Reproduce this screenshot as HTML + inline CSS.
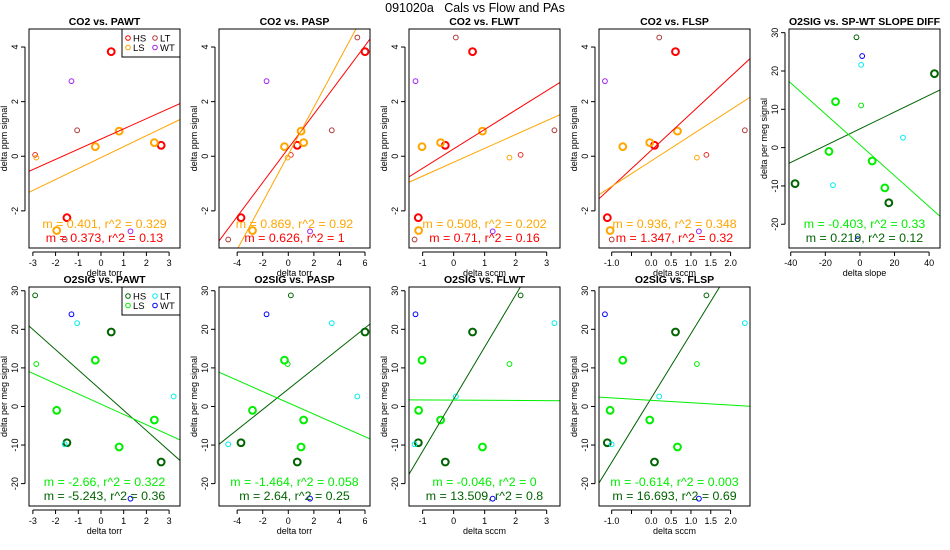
<!DOCTYPE html>
<html><head><meta charset="utf-8"><style>
html,body{margin:0;padding:0;background:#fff}
svg{display:block;font-family:"Liberation Sans",sans-serif}
</style></head><body>
<svg id="c" width="950" height="550" viewBox="0 0 950 550">
<text x="475" y="12" text-anchor="middle" font-size="12.5" style="white-space:pre" xml:space="preserve">091020a   Cals vs Flow and PAs</text>
</svg>
<script>
// point data (14 calibration points)
const groups=['HS','HS','HS','LS','LS','LS','LS','HSt','LSt','LT','LT','LT','WT','WT'];
const co2=[3.83,-2.25,0.4,0.92,0.35,0.5,-2.72,0.05,-0.05,0.95,-3.05,4.35,2.75,-2.75];
const o2=[19.3,-9.4,-14.4,-10.5,12,-3.5,-1,28.8,11,21.6,-9.8,2.6,23.9,-23.9];
const pawt=[0.45,-1.5,2.65,0.8,-0.25,2.35,-1.95,-2.9,-2.85,-1.05,-1.6,3.2,-1.3,1.3];
const pasp=[6,-3.7,0.7,1.0,-0.3,1.2,-2.8,0.2,-0.05,3.4,-4.7,5.4,-1.7,1.7];
const flwt=[0.61,-1.14,-0.27,0.93,-1.02,-0.42,-1.13,2.16,1.8,3.25,-1.26,0.07,-1.23,1.26];
const flsp=[0.61,-1.11,0.08,0.66,-0.72,-0.04,-1.04,1.39,1.15,2.36,-1.0,0.2,-1.17,1.2];
const sdiff=[43.1,-37.5,16.7,14.4,-14.1,7.1,-17.9,-2,0.7,0.7,-15.6,24.9,1.3,-1.3];
// fit lines: [slope, intercept] for (HS-line, LS-line)
const fitHS=[[0.373,0.63],[0.626,0.29],[0.71,0.27],[1.347,0.22],[0.219,4.9],[-5.243,4.25],[2.64,4.5],[13.509,1.9],[16.693,2.2]];
const fitLS=[[0.401,-0.05],[0.869,0.06],[0.508,-0.22],[0.936,-0.17],[-0.403,0.74],[-2.66,0.6],[-1.464,0.95],[-0.046,1.65],[-0.614,1.6]];
const labHS=['m = 0.373, r^2 = 0.13','m = 0.626, r^2 = 1','m = 0.71, r^2 = 0.16','m = 1.347, r^2 = 0.32','m = 0.219, r^2 = 0.12','m = -5.243, r^2 = 0.36','m = 2.64, r^2 = 0.25','m = 13.509, r^2 = 0.8','m = 16.693, r^2 = 0.69'];
const labLS=['m = 0.401, r^2 = 0.329','m = 0.869, r^2 = 0.92','m = 0.508, r^2 = 0.202','m = 0.936, r^2 = 0.348','m = -0.403, r^2 = 0.33','m = -2.66, r^2 = 0.322','m = -1.464, r^2 = 0.058','m = -0.046, r^2 = 0','m = -0.614, r^2 = 0.003'];
const ticksCO2=[-2,0,2,4];
const ticksO2=[-20,-10,0,10,20,30];
const ticksT=[-3,-2,-1,0,1,2,3];
const ticksP=[-4,-2,0,2,4,6];
const ticksW=[-1,0,1,2,3];
const ticksS=[-1.0,-0.5,0.0,0.5,1.0,1.5,2.0];
const tickLabS=['-1.0','','0.0','0.5','1.0','1.5','2.0'];
const ticksD=[-40,-20,0,20,40];

const colCO2={HS:'#ff0000',LS:'#ffa500',HSt:'#e03030',LSt:'#ffa500',LT:'#b03a3a',WT:'#a020f0'};
const colO2={HS:'#006400',LS:'#00ee00',HSt:'#006400',LSt:'#00ee00',LT:'#00eeee',WT:'#0000ff'};
const NS='http://www.w3.org/2000/svg';
const svg=document.getElementById('c');
function mk(tag,attrs,parent){const e=document.createElementNS(NS,tag);for(const k in attrs)e.setAttribute(k,attrs[k]);(parent||svg).appendChild(e);return e;}

const panels=[
 {t:'CO2 vs. PAWT',x:pawt,y:co2,xd:[-3.17,3.48],yd:[4.66,-3.36],xt:ticksT,yt:ticksCO2,xl:'delta torr',yl:'delta ppm signal',c:colCO2,lc:['#ff0000','#ffa500'],L:29,T:29,leg:1},
 {t:'CO2 vs. PASP',x:pasp,y:co2,xd:[-5.42,6.39],yd:[4.66,-3.36],xt:ticksP,yt:ticksCO2,xl:'delta torr',yl:'delta ppm signal',c:colCO2,lc:['#ff0000','#ffa500'],L:219,T:29},
 {t:'CO2 vs. FLWT',x:flwt,y:co2,xd:[-1.44,3.43],yd:[4.66,-3.36],xt:ticksW,yt:ticksCO2,xl:'delta sccm',yl:'delta ppm signal',c:colCO2,lc:['#ff0000','#ffa500'],L:409,T:29},
 {t:'CO2 vs. FLSP',x:flsp,y:co2,xd:[-1.32,2.49],yd:[4.66,-3.36],xt:ticksS,xtl:tickLabS,yt:ticksCO2,xl:'delta sccm',yl:'delta ppm signal',c:colCO2,lc:['#ff0000','#ffa500'],L:599,T:29},
 {t:'O2SIG vs. SP-WT SLOPE DIFF',x:sdiff,y:o2,xd:[-41,46.3],yd:[30.96,-26.2],xt:ticksD,yt:ticksO2,xl:'delta slope',yl:'delta per meg signal',c:colO2,lc:['#006400','#00ee00'],L:789,T:29},
 {t:'O2SIG vs. PAWT',x:pawt,y:o2,xd:[-3.17,3.48],yd:[30.97,-25.8],xt:ticksT,yt:ticksO2,xl:'delta torr',yl:'delta per meg signal',c:colO2,lc:['#006400','#00ee00'],L:29,T:287,leg:1},
 {t:'O2SIG vs. PASP',x:pasp,y:o2,xd:[-5.42,6.39],yd:[30.97,-25.8],xt:ticksP,yt:ticksO2,xl:'delta torr',yl:'delta per meg signal',c:colO2,lc:['#006400','#00ee00'],L:219,T:287},
 {t:'O2SIG vs. FLWT',x:flwt,y:o2,xd:[-1.44,3.43],yd:[30.97,-25.8],xt:ticksW,yt:ticksO2,xl:'delta sccm',yl:'delta per meg signal',c:colO2,lc:['#006400','#00ee00'],L:409,T:287},
 {t:'O2SIG vs. FLSP',x:flsp,y:o2,xd:[-1.32,2.49],yd:[30.97,-25.8],xt:ticksS,xtl:tickLabS,yt:ticksO2,xl:'delta sccm',yl:'delta per meg signal',c:colO2,lc:['#006400','#00ee00'],L:599,T:287}
];
const W=151,H=219;
panels.forEach((p,i)=>{
  const g=mk('g',{});
  
  
  const sx=v=>p.L+(v-p.xd[0])/(p.xd[1]-p.xd[0])*W;
  const sy=v=>p.T+(v-p.yd[0])/(p.yd[1]-p.yd[0])*H;
  const cp=mk('clipPath',{id:'cp'+i},g);mk('rect',{x:p.L,y:p.T,width:W,height:H},cp);
  const tt=mk('text',{x:p.L+W/2,y:p.T-4,'text-anchor':'middle','font-size':'10.5','font-weight':'bold'},g);tt.textContent=p.t;
  
  const xa=mk('g',{},g);
  const B=p.T+H;
  mk('line',{x1:sx(p.xt[0]),x2:sx(p.xt[p.xt.length-1]),y1:B+4,y2:B+4,stroke:'#000','stroke-width':1},xa);
  p.xt.forEach((v,k)=>{
    mk('line',{x1:sx(v),x2:sx(v),y1:B+4,y2:B+8,stroke:'#000'},xa);
    const t=mk('text',{x:sx(v),y:B+18,'text-anchor':'middle','font-size':'9'},xa);
    t.textContent=p.xtl?p.xtl[k]:String(v);
  });
  const xl=mk('text',{x:p.L+W/2,y:B+28,'text-anchor':'middle','font-size':'9'},g);xl.textContent=p.xl;
  
  const ya=mk('g',{},g);
  mk('line',{x1:p.L-4,x2:p.L-4,y1:sy(p.yt[0]),y2:sy(p.yt[p.yt.length-1]),stroke:'#000'},ya);
  p.yt.forEach(v=>{
    mk('line',{x1:p.L-8,x2:p.L-4,y1:sy(v),y2:sy(v),stroke:'#000'},ya);
    const t=mk('text',{x:p.L-11,y:sy(v),'text-anchor':'middle','font-size':'9',transform:`rotate(-90 ${p.L-11} ${sy(v)})`},ya);
    t.textContent=String(v);
  });
  const yl=mk('text',{x:p.L-22,y:p.T+H/2,'text-anchor':'middle','font-size':'9',transform:`rotate(-90 ${p.L-22} ${p.T+H/2})`},g);yl.textContent=p.yl;
  
  const pg=mk('g',{},g);
  p.x.forEach((xv,k)=>{
    const gr=groups[k];const thick=(gr==='HS'||gr==='LS');
    const c=mk('circle',{cx:sx(xv),cy:sy(p.y[k]),r:thick?3.4:2.4,fill:'none',stroke:p.c[gr],'stroke-width':thick?2:1,'clip-path':`url(#cp${i})`},pg);
    
    
  });
  [fitHS[i],fitLS[i]].forEach((f,k)=>{
    const l=mk('line',{x1:sx(p.xd[0]),y1:sy(f[0]*p.xd[0]+f[1]),x2:sx(p.xd[1]),y2:sy(f[0]*p.xd[1]+f[1]),stroke:p.lc[k],'stroke-width':1,'clip-path':`url(#cp${i})`},g);
    
    
  });
  const a1=mk('text',{x:p.L+W/2,y:B-20,'text-anchor':'middle','font-size':'12.4',fill:p.lc[1]},g);a1.textContent=labLS[i];
  
  const a2=mk('text',{x:p.L+W/2,y:B-6,'text-anchor':'middle','font-size':'12.4',fill:p.lc[0]},g);a2.textContent=labHS[i];
  
  const bx=mk('rect',{x:p.L,y:p.T,width:W,height:H,fill:'none',stroke:'#000','stroke-width':1},g);
  
  if(p.leg){
    const lg=mk('g',{},g);
    mk('rect',{x:p.L+W-58,y:p.T,width:58,height:28,fill:'#fff',stroke:'#000'},lg);
    [['HS',0,0],['LS',0,1],['LT',1,0],['WT',1,1]].forEach(e=>{
      const ex=p.L+W-52+e[1]*27, ey=p.T+9+e[2]*9.5;
      const en=mk('g',{},lg);
      mk('circle',{cx:ex,cy:ey,r:2.3,fill:'none',stroke:p.c[e[0]]},en);
      const t=mk('text',{x:ex+5,y:ey+3.5,'font-size':'9.5'},en);t.textContent=e[0];
    });
  }
});
</script>
</body></html>
